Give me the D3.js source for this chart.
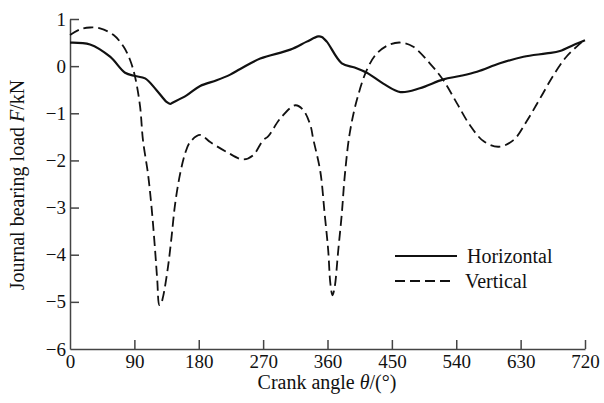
<!DOCTYPE html>
<html>
<head>
<meta charset="utf-8">
<script src="https://cdn.jsdelivr.net/npm/d3@7"></script>
<style>
  html, body { margin: 0; padding: 0; background: #fff; }
  svg { display: block; }
  text { font-family: "Liberation Serif", "Times New Roman", serif; fill: #111; }
</style>
</head>
<body>
<svg id="chart" width="604" height="403"></svg>
<script>
// Crank angle (deg) and journal bearing load (kN) for each component
const horizAngle = [0, 28, 56, 77, 91, 105, 121, 135, 140, 144, 163, 182, 205, 224, 238, 266, 308, 331, 347, 352, 359, 380, 398, 415, 438, 462, 489, 522, 545, 569, 601, 634, 666, 685, 704, 720];
const horizLoad  = [0.50, 0.46, 0.20, -0.14, -0.21, -0.26, -0.51, -0.76, -0.80, -0.77, -0.62, -0.42, -0.30, -0.18, -0.06, 0.16, 0.35, 0.52, 0.63, 0.62, 0.52, 0.06, -0.03, -0.14, -0.37, -0.55, -0.47, -0.28, -0.21, -0.12, 0.06, 0.20, 0.27, 0.32, 0.45, 0.55];

const vertAngle = [0, 14, 28, 42, 61, 75, 84, 91, 98, 102, 109, 114, 119, 122, 125, 127, 130, 137, 142, 147, 154, 161, 168, 182, 196, 219, 242, 256, 270, 277, 294, 315, 326, 336, 340, 350, 356, 361, 364, 367, 370, 375, 380, 384, 391, 401, 415, 429, 447, 463, 480, 503, 522, 541, 559, 578, 599, 620, 638, 657, 676, 694, 708, 720];
const vertLoad  = [0.66, 0.78, 0.82, 0.80, 0.66, 0.41, 0.13, -0.23, -0.86, -1.57, -2.28, -2.99, -3.91, -4.54, -5.07, -5.05, -4.90, -4.26, -3.62, -2.92, -2.28, -1.85, -1.61, -1.46, -1.61, -1.82, -1.98, -1.89, -1.57, -1.49, -1.11, -0.83, -0.93, -1.25, -1.54, -2.24, -3.13, -3.91, -4.61, -4.86, -4.69, -3.91, -3.13, -2.35, -1.43, -0.72, -0.08, 0.27, 0.46, 0.50, 0.41, 0.06, -0.30, -0.79, -1.25, -1.59, -1.71, -1.57, -1.18, -0.69, -0.19, 0.20, 0.41, 0.57];

const xTicks = [0, 90, 180, 270, 360, 450, 540, 630, 720];
const yTicks = [1, 0, -1, -2, -3, -4, -5, -6];
const seriesNames = ["Horizontal", "Vertical"];

const svg = d3.select("#chart");
const margin = { left: 70, right: 19, top: 19, bottom: 54 };
const W = 604, H = 403;

const x = d3.scaleLinear().domain([0, 720]).range([margin.left, W - margin.right]);
const y = d3.scaleLinear().domain([-6, 1]).range([H - margin.bottom, margin.top]);

// Axes: ticks point into the plot
const xAxis = d3.axisBottom(x).tickValues(xTicks).tickFormat(d3.format("d"))
  .tickSizeInner(-9).tickSizeOuter(0).tickPadding(6);
const yAxis = d3.axisLeft(y).tickValues(yTicks).tickFormat(d3.format("d"))
  .tickSizeInner(-9).tickSizeOuter(0).tickPadding(4);

const gx = svg.append("g").attr("transform", `translate(0,${y(-6)})`).call(xAxis);
const gy = svg.append("g").attr("transform", `translate(${x(0)},0)`).call(yAxis);
[gx, gy].forEach(g => {
  g.selectAll("path.domain").attr("stroke", "#444").attr("stroke-width", 1.5);
  g.selectAll(".tick line").attr("stroke", "#444").attr("stroke-width", 1.5);
  g.selectAll(".tick text").attr("font-size", 19).attr("font-family", "Liberation Serif").attr("fill", "#111");
});
gx.selectAll(".tick").filter(d => d === 0).select("line").remove();
gy.selectAll(".tick").filter(d => d === -6).select("line").remove();

// Lines
const line = d3.line().curve(d3.curveCatmullRom.alpha(0.5));
const horizPts = horizAngle.map((a, i) => [x(a), y(horizLoad[i])]);
const vertPts = vertAngle.map((a, i) => [x(a), y(vertLoad[i])]);

svg.append("path").attr("d", line(vertPts))
  .attr("fill", "none").attr("stroke", "#111").attr("stroke-width", 1.8)
  .attr("stroke-dasharray", "10,5");
svg.append("path").attr("d", line(horizPts))
  .attr("fill", "none").attr("stroke", "#111").attr("stroke-width", 2.2);

// Axis titles
const xt = svg.append("text").attr("x", 327).attr("y", 389).attr("text-anchor", "middle").attr("font-size", 20);
xt.append("tspan").text("Crank angle ");
xt.append("tspan").attr("font-style", "italic").text("θ");
xt.append("tspan").text("/(°)");

const yt = svg.append("text").attr("transform", "translate(24,185) rotate(-90)").attr("text-anchor", "middle").attr("font-size", 20);
yt.append("tspan").text("Journal bearing load ");
yt.append("tspan").attr("font-style", "italic").text("F");
yt.append("tspan").text("/kN");

// Legend
const legend = svg.append("g");
const legY = [256, 281];
seriesNames.forEach((name, i) => {
  legend.append("line").attr("x1", 395).attr("x2", i === 0 ? 457 : 452)
    .attr("y1", legY[i]).attr("y2", legY[i])
    .attr("stroke", "#111").attr("stroke-width", i === 0 ? 2.2 : 1.8)
    .attr("stroke-dasharray", i === 0 ? null : "10,5");
  legend.append("text").attr("x", i === 0 ? 467 : 465).attr("y", legY[i] + 6.5)
    .attr("font-size", 20).text(name);
});
</script>
</body>
</html>
